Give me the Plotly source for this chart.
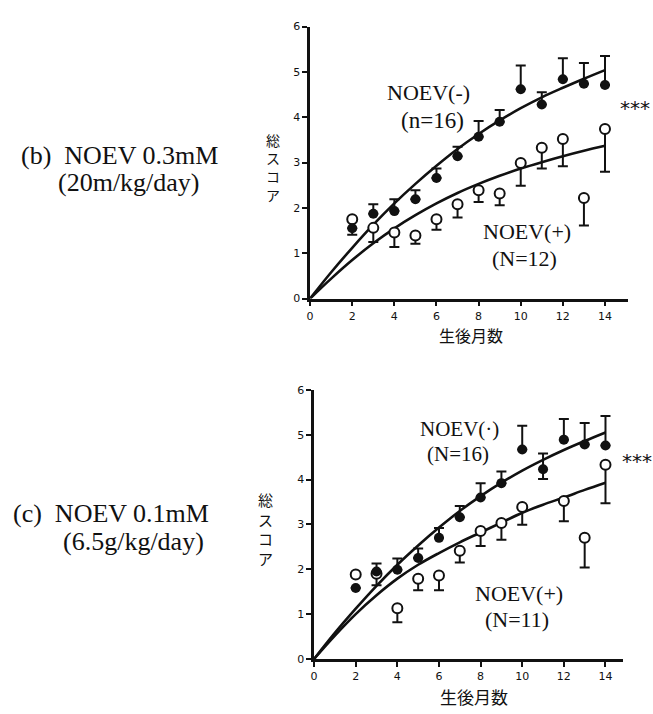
import plotly.graph_objects as go

months = [2, 3, 4, 5, 6, 7, 8, 9, 10, 11, 12, 13, 14]
fit_x = [0, 1, 2, 3, 4, 5, 6, 7, 8, 9, 10, 11, 12, 13, 14]
x_ticks = [0, 2, 4, 6, 8, 10, 12, 14]
y_ticks = [0, 1, 2, 3, 4, 5, 6]

# (b) NOEV 0.3mM
b_minus = [1.55, 1.87, 1.93, 2.19, 2.66, 3.14, 3.57, 3.90, 4.62, 4.28, 4.84, 4.74, 4.71]
b_minus_up = [0.0, 0.21, 0.26, 0.20, 0.21, 0.21, 0.35, 0.26, 0.52, 0.27, 0.46, 0.46, 0.64]
b_minus_dn = [0.14, 0, 0, 0, 0, 0, 0, 0, 0, 0, 0, 0, 0]
b_plus = [1.75, 1.56, 1.46, 1.39, 1.75, 2.08, 2.39, 2.32, 2.99, 3.33, 3.52, 2.22, 3.74]
b_plus_dn = [0.0, 0.31, 0.32, 0.18, 0.23, 0.29, 0.26, 0.26, 0.50, 0.46, 0.60, 0.61, 0.94]
b_fit_minus = [0, 0.58, 1.12, 1.63, 2.10, 2.53, 2.93, 3.30, 3.63, 3.93, 4.20, 4.44, 4.65, 4.85, 5.04]
b_fit_plus = [0, 0.44, 0.85, 1.22, 1.55, 1.84, 2.10, 2.33, 2.53, 2.71, 2.87, 3.01, 3.14, 3.26, 3.37]

# (c) NOEV 0.1mM
c_minus = [1.58, 1.95, 1.99, 2.25, 2.70, 3.16, 3.60, 3.92, 4.67, 4.23, 4.89, 4.78, 4.76]
c_minus_up = [0.0, 0.18, 0.25, 0.21, 0.22, 0.25, 0.32, 0.26, 0.53, 0.35, 0.46, 0.48, 0.66]
c_minus_dn = [0, 0, 0, 0, 0, 0, 0, 0, 0, 0.22, 0, 0, 0]
c_plus = [1.88, 1.90, 1.13, 1.79, 1.86, 2.41, 2.85, 3.03, 3.39, None, 3.52, 2.70, 4.33]
c_plus_dn = [0.0, 0.26, 0.31, 0.26, 0.33, 0.26, 0.33, 0.37, 0.40, 0, 0.45, 0.66, 0.86]
c_fit_minus = [0, 0.58, 1.12, 1.63, 2.10, 2.53, 2.93, 3.30, 3.63, 3.93, 4.20, 4.44, 4.66, 4.86, 5.05]
c_fit_plus = [0, 0.52, 1.00, 1.42, 1.79, 2.10, 2.36, 2.60, 2.82, 3.04, 3.26, 3.44, 3.60, 3.77, 3.93]

SERIF = "Liberation Serif"
JP = "Noto Sans CJK JP"
BLACK = "#111111"

fig = go.Figure()


def add_panel(fig, xa, ya, fit_m, fit_p, ym, ym_up, ym_dn, yp, yp_dn):
    fig.add_trace(go.Scatter(x=fit_x, y=fit_m, mode="lines", line=dict(color=BLACK, width=2.6, shape="spline"),
                             xaxis=xa, yaxis=ya, showlegend=False, hoverinfo="skip"))
    fig.add_trace(go.Scatter(x=fit_x, y=fit_p, mode="lines", line=dict(color=BLACK, width=2.6, shape="spline"),
                             xaxis=xa, yaxis=ya, showlegend=False, hoverinfo="skip"))
    fig.add_trace(go.Scatter(x=months, y=yp, mode="markers",
                             marker=dict(symbol="circle", size=10, color="white", line=dict(color=BLACK, width=2)),
                             error_y=dict(type="data", symmetric=False, array=[0] * len(months), arrayminus=yp_dn,
                                          color=BLACK, thickness=2, width=5),
                             xaxis=xa, yaxis=ya, showlegend=False))
    fig.add_trace(go.Scatter(x=months, y=ym, mode="markers",
                             marker=dict(symbol="circle", size=10, color=BLACK),
                             error_y=dict(type="data", symmetric=False, array=ym_up, arrayminus=ym_dn,
                                          color=BLACK, thickness=2, width=5),
                             xaxis=xa, yaxis=ya, showlegend=False))


add_panel(fig, "x", "y", b_fit_minus, b_fit_plus, b_minus, b_minus_up, b_minus_dn, b_plus, b_plus_dn)
add_panel(fig, "x2", "y2", c_fit_minus, c_fit_plus, c_minus, c_minus_up, c_minus_dn, c_plus, c_plus_dn)

axis_common = dict(showgrid=False, zeroline=False, showline=True, linecolor=BLACK, linewidth=2.5,
                   ticks="outside", ticklen=5, tickwidth=2, tickcolor=BLACK,
                   tickfont=dict(family="DejaVu Sans", size=11, color=BLACK))

W, H = 653, 714
fig.update_layout(
    width=W, height=H, margin=dict(l=0, r=0, t=0, b=0),
    paper_bgcolor="white", plot_bgcolor="white",
    xaxis=dict(domain=[308 / W, 628 / W], range=[0, 15.1], tickvals=x_ticks, anchor="y", **axis_common),
    yaxis=dict(domain=[1 - 298 / H, 1 - 21 / H], range=[0, 6], tickvals=y_ticks, anchor="x", **axis_common),
    xaxis2=dict(domain=[312 / W, 623 / W], range=[0, 14.85], tickvals=x_ticks, anchor="y2", **axis_common),
    yaxis2=dict(domain=[1 - 665 / H, 1 - 391 / H], range=[0, 6], tickvals=y_ticks, anchor="x2", **axis_common),
)


def ann(text, x, y, size, family=SERIF, xanchor="center"):
    fig.add_annotation(text=text, x=x / W, y=1 - y / H, xref="paper", yref="paper", showarrow=False,
                       font=dict(family=family, size=size, color=BLACK), xanchor=xanchor, yanchor="middle",
                       borderpad=0)


# panel (b)
ann("NOEV(-)", 427, 88, 22)
ann("(n=16)", 431, 117, 23)
ann("NOEV(+)", 526, 230, 22)
ann("(N=12)", 524, 257, 22)
ann("***", 651, 104, 20, family="DejaVu Sans", xanchor="right")
ann("(b)  NOEV 0.3mM", 116, 152, 26)
ann("(20m/kg/day)", 126, 180, 26)
ann("総<br>ス<br>コ<br>ア", 271, 165, 14, family=JP)
ann("生後月数", 470, 335, 16, family=JP)

# panel (c)
ann("NOEV(·)", 458, 431, 21)
ann("(N=16)", 457, 456, 21)
ann("NOEV(+)", 518, 598, 22)
ann("(N=11)", 516, 625, 22)
ann("***", 653, 463, 20, family="DejaVu Sans", xanchor="right")
ann("(c)  NOEV 0.1mM", 108, 517, 26)
ann("(6.5g/kg/day)", 130, 545, 26)
ann("総<br>ス<br>コ<br>ア", 263, 533, 15, family=JP)
ann("生後月数", 473, 703, 17, family=JP)

fig.write_html("out.html", config={"displayModeBar": False},
               post_script="document.body.style.margin='0';document.body.style.overflow='hidden';")
